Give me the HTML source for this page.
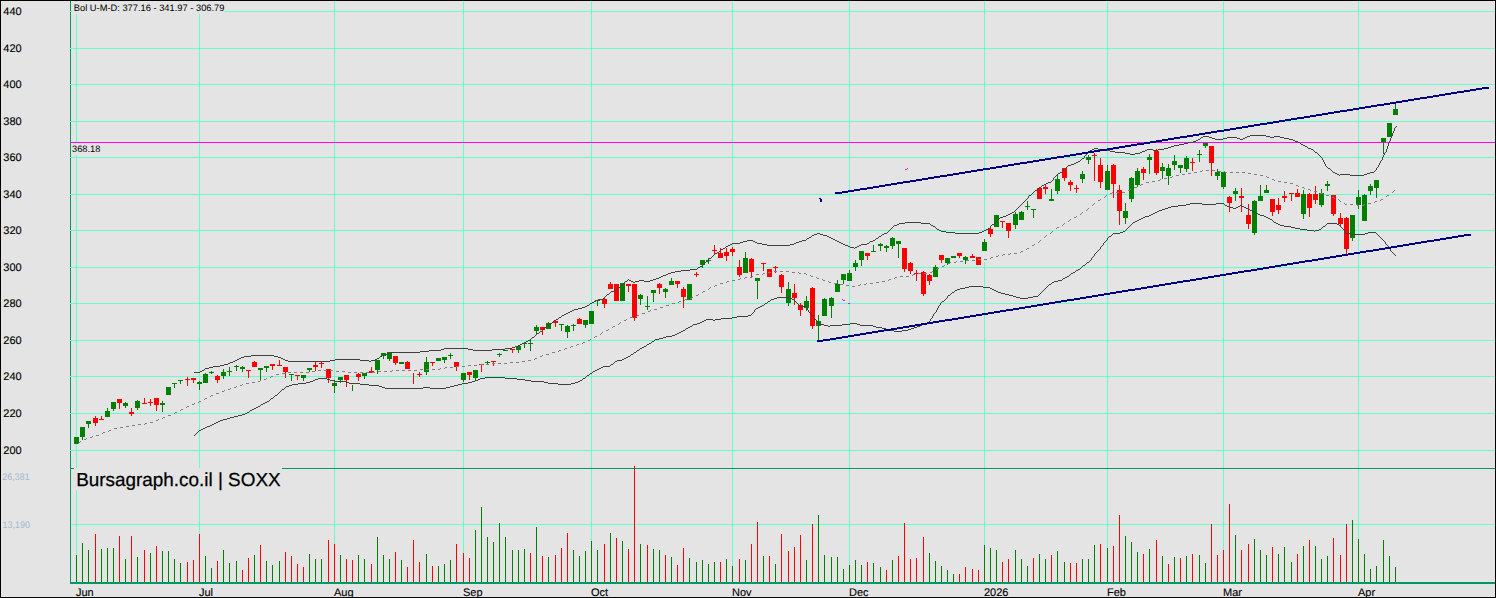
<!DOCTYPE html>
<html><head><meta charset="utf-8"><title>SOXX</title>
<style>html,body{margin:0;padding:0;background:#e4e4e4;}body{width:1496px;height:598px;overflow:hidden;position:relative;font-family:"Liberation Sans",sans-serif;}</style>
</head><body>
<svg width="1496" height="598" viewBox="0 0 1496 598" shape-rendering="crispEdges" style="display:block;position:absolute;left:0;top:0">
<rect x="0" y="0" width="1496" height="598" fill="#000"/>
<rect x="1" y="1" width="1494" height="596" fill="#e4e4e4"/>
<rect x="70" y="1" width="1" height="583" fill="#009966"/>
<path d="M70 11.5H1495M70 48.5H1495M70 84.5H1495M70 121.5H1495M70 157.5H1495M70 194.5H1495M70 230.5H1495M70 267.5H1495M70 303.5H1495M70 340.5H1495M70 376.5H1495M70 413.5H1495M70 450.5H1495M71 524.5H1495M76.5 1V582M199.5 1V582M334.5 1V582M463.5 1V582M591.5 1V582M732.5 1V582M849.5 1V582M984.5 1V582M1107.5 1V582M1223.5 1V582M1358.5 1V582" stroke="#66ffcc" stroke-width="1" fill="none"/>
<rect x="984" y="231" width="1" height="31" fill="#e4e4e4"/>
<path d="M70 468.5H1495" stroke="#009966" stroke-width="1"/>
<rect x="72" y="2" width="153" height="12" fill="#e4e4e4"/>
<rect x="71" y="143" width="31" height="12" fill="#e4e4e4"/>
<rect x="74" y="468" width="208" height="22" fill="#e4e4e4"/>
<path d="M70 142.5H1495" stroke="#ff00ff" stroke-width="1"/>
<rect x="70" y="582" width="1425" height="2" fill="#009966"/>
<path d="M76.5 555V582M82.5 543V582M88.5 550V582M101.5 549V582M107.5 548V582M113.5 548V582M125.5 559V582M137.5 557V582M150.5 553V582M162.5 551V582M168.5 551V582M174.5 559V582M180.5 563V582M205.5 556V582M211.5 568V582M223.5 550V582M229.5 563V582M236.5 561V582M254.5 555V582M266.5 561V582M272.5 565V582M279.5 561V582M309.5 554V582M315.5 559V582M321.5 559V582M340.5 555V582M358.5 555V582M364.5 559V582M377.5 537V582M383.5 555V582M389.5 559V582M401.5 560V582M426.5 554V582M438.5 566V582M444.5 564V582M450.5 560V582M475.5 530V582M481.5 507V582M487.5 537V582M493.5 542V582M499.5 523V582M505.5 537V582M512.5 550V582M518.5 550V582M524.5 549V582M536.5 527V582M548.5 557V582M573.5 550V582M579.5 556V582M585.5 551V582M591.5 541V582M597.5 550V582M610.5 533V582M622.5 541V582M640.5 544V582M653.5 549V582M659.5 550V582M671.5 557V582M689.5 558V582M696.5 562V582M702.5 560V582M708.5 564V582M714.5 562V582M726.5 559V582M732.5 566V582M745.5 560V582M763.5 556V582M775.5 564V582M806.5 560V582M818.5 515V582M824.5 555V582M831.5 557V582M837.5 557V582M843.5 569V582M849.5 565V582M855.5 560V582M861.5 565V582M873.5 563V582M880.5 567V582M892.5 560V582M929.5 553V582M935.5 561V582M941.5 566V582M947.5 570V582M953.5 574V582M984.5 545V582M990.5 548V582M996.5 550V582M1015.5 550V582M1021.5 559V582M1027.5 566V582M1039.5 554V582M1045.5 559V582M1057.5 551V582M1064.5 562V582M1082.5 559V582M1088.5 559V582M1094.5 545V582M1107.5 548V582M1125.5 536V582M1131.5 542V582M1137.5 552V582M1149.5 549V582M1162.5 556V582M1174.5 557V582M1186.5 556V582M1199.5 555V582M1205.5 563V582M1235.5 535V582M1254.5 539V582M1260.5 550V582M1266.5 555V582M1278.5 554V582M1284.5 547V582M1291.5 562V582M1303.5 546V582M1315.5 546V582M1321.5 559V582M1327.5 556V582M1352.5 520V582M1358.5 539V582M1364.5 554V582M1370.5 569V582M1376.5 566V582M1383.5 540V582M1389.5 556V582M1395.5 567V582" stroke="#008000" stroke-width="1"/>
<path d="M95.5 534V582M119.5 536V582M131.5 536V582M144.5 550V582M156.5 546V582M187.5 562V582M193.5 560V582M199.5 534V582M217.5 561V582M242.5 570V582M248.5 558V582M260.5 545V582M285.5 552V582M291.5 556V582M297.5 564V582M303.5 567V582M328.5 540V582M334.5 544V582M346.5 559V582M352.5 560V582M371.5 564V582M395.5 552V582M407.5 567V582M413.5 540V582M419.5 562V582M432.5 566V582M456.5 544V582M463.5 553V582M469.5 558V582M530.5 553V582M542.5 556V582M555.5 555V582M561.5 548V582M567.5 533V582M604.5 544V582M616.5 538V582M628.5 549V582M634.5 466V582M647.5 545V582M665.5 555V582M677.5 565V582M683.5 548V582M720.5 562V582M739.5 559V582M751.5 544V582M757.5 522V582M769.5 556V582M781.5 534V582M788.5 551V582M794.5 547V582M800.5 535V582M812.5 524V582M867.5 562V582M886.5 570V582M898.5 556V582M904.5 523V582M910.5 559V582M916.5 558V582M923.5 537V582M959.5 574V582M965.5 567V582M972.5 569V582M978.5 570V582M1002.5 562V582M1008.5 559V582M1033.5 558V582M1051.5 555V582M1070.5 563V582M1076.5 563V582M1100.5 544V582M1113.5 546V582M1119.5 515V582M1143.5 554V582M1156.5 540V582M1168.5 564V582M1180.5 558V582M1192.5 554V582M1211.5 524V582M1217.5 555V582M1223.5 550V582M1229.5 504V582M1241.5 550V582M1248.5 544V582M1272.5 547V582M1297.5 554V582M1309.5 540V582M1333.5 538V582M1340.5 555V582M1346.5 524V582" stroke="#ff0000" stroke-width="1"/>
<path d="M76 437h1v7h-1zM74 437h5v7h-5zM82 427h1v13h-1zM80 427h5v10h-5zM88 421h1v7h-1zM86 421h5v3h-5zM107 408h1v9h-1zM105 411h5v6h-5zM113 402h1v9h-1zM111 402h5v7h-5zM125 402h1v6h-1zM123 403h5v3h-5zM137 400h1v10h-1zM135 401h5v7h-5zM162 401h1v11h-1zM160 403h5v2h-5zM168 387h1v8h-1zM166 387h5v8h-5zM174 383h1v5h-1zM172 383h5v1h-5zM180 380h1v4h-1zM178 380h5v1h-5zM199 381h1v9h-1zM197 382h5v2h-5zM205 373h1v10h-1zM203 374h5v9h-5zM211 371h1v3h-1zM209 372h5v1h-5zM223 369h1v10h-1zM221 372h5v4h-5zM229 367h1v9h-1zM227 371h5v1h-5zM236 365h1v6h-1zM234 366h5v1h-5zM242 366h1v6h-1zM240 367h5v2h-5zM260 368h1v12h-1zM258 368h5v2h-5zM266 366h1v6h-1zM264 366h5v2h-5zM291 374h1v7h-1zM289 374h5v1h-5zM303 375h1v6h-1zM301 375h5v3h-5zM309 368h1v4h-1zM307 368h5v2h-5zM334 380h1v13h-1zM332 383h5v3h-5zM340 377h1v6h-1zM338 377h5v3h-5zM352 385h1v6h-1zM364 373h1v6h-1zM362 373h5v3h-5zM377 360h1v14h-1zM375 360h5v10h-5zM383 353h1v6h-1zM381 353h5v3h-5zM389 352h1v9h-1zM387 352h5v7h-5zM401 362h1v2h-1zM399 362h5v2h-5zM426 357h1v18h-1zM424 362h5v10h-5zM438 358h1v3h-1zM436 358h5v3h-5zM444 357h1v6h-1zM442 357h5v3h-5zM450 353h1v6h-1zM448 355h5v1h-5zM463 373h1v9h-1zM461 373h5v7h-5zM475 370h1v11h-1zM473 370h5v8h-5zM487 361h1v4h-1zM485 362h5v1h-5zM499 353h1v4h-1zM497 354h5v1h-5zM505 350h1v1h-1zM503 350h5v1h-5zM518 345h1v8h-1zM516 346h5v4h-5zM524 343h1v5h-1zM522 343h5v1h-5zM530 340h1v11h-1zM528 343h5v1h-5zM536 325h1v9h-1zM534 327h5v4h-5zM548 322h1v7h-1zM546 323h5v6h-5zM561 324h1v7h-1zM559 324h5v1h-5zM567 325h1v13h-1zM565 326h5v6h-5zM573 324h1v7h-1zM571 325h5v1h-5zM585 320h1v8h-1zM583 320h5v5h-5zM591 311h1v13h-1zM589 311h5v13h-5zM597 300h1v6h-1zM595 300h5v1h-5zM622 283h1v18h-1zM620 283h5v18h-5zM640 294h1v11h-1zM638 295h5v4h-5zM647 296h1v14h-1zM645 306h5v1h-5zM653 290h1v12h-1zM651 290h5v3h-5zM665 288h1v10h-1zM663 289h5v3h-5zM671 278h1v7h-1zM669 281h5v4h-5zM689 284h1v16h-1zM687 284h5v16h-5zM702 260h1v8h-1zM700 260h5v5h-5zM708 258h1v6h-1zM706 260h5v1h-5zM745 252h1v21h-1zM743 258h5v15h-5zM757 278h1v21h-1zM755 278h5v3h-5zM788 282h1v24h-1zM786 289h5v14h-5zM806 296h1v15h-1zM804 301h5v7h-5zM818 315h1v25h-1zM816 321h5v5h-5zM824 298h1v18h-1zM822 299h5v17h-5zM831 297h1v21h-1zM829 298h5v8h-5zM837 280h1v12h-1zM835 284h5v8h-5zM843 274h1v10h-1zM841 274h5v6h-5zM849 270h1v11h-1zM847 273h5v8h-5zM855 260h1v11h-1zM853 263h5v4h-5zM861 251h1v15h-1zM859 251h5v9h-5zM873 245h1v7h-1zM871 251h5v1h-5zM880 243h1v8h-1zM878 244h5v2h-5zM886 245h1v7h-1zM884 246h5v2h-5zM892 237h1v12h-1zM890 238h5v8h-5zM898 241h1v17h-1zM896 241h5v3h-5zM935 265h1v12h-1zM933 267h5v10h-5zM947 258h1v7h-1zM945 258h5v5h-5zM953 256h1v2h-1zM951 256h5v2h-5zM965 256h1v8h-1zM963 257h5v3h-5zM984 239h1v12h-1zM982 242h5v9h-5zM996 215h1v12h-1zM994 215h5v12h-5zM1015 212h1v17h-1zM1013 214h5v11h-5zM1021 211h1v9h-1zM1019 212h5v8h-5zM1027 201h1v9h-1zM1025 206h5v1h-5zM1033 209h1v9h-1zM1031 209h5v1h-5zM1051 189h1v12h-1zM1049 199h5v2h-5zM1057 174h1v20h-1zM1055 179h5v12h-5zM1082 171h1v12h-1zM1080 174h5v5h-5zM1088 155h1v9h-1zM1086 157h5v3h-5zM1107 165h1v25h-1zM1105 171h5v19h-5zM1125 203h1v21h-1zM1123 211h5v7h-5zM1131 177h1v25h-1zM1129 178h5v21h-5zM1137 168h1v19h-1zM1135 171h5v14h-5zM1149 154h1v20h-1zM1147 157h5v3h-5zM1162 163h1v16h-1zM1160 167h5v4h-5zM1168 164h1v21h-1zM1166 168h5v8h-5zM1174 155h1v15h-1zM1172 161h5v4h-5zM1180 165h1v8h-1zM1178 165h5v3h-5zM1186 156h1v16h-1zM1184 158h5v11h-5zM1199 150h1v12h-1zM1197 154h5v1h-5zM1205 143h1v5h-1zM1203 143h5v3h-5zM1217 169h1v11h-1zM1215 172h5v4h-5zM1223 172h1v17h-1zM1221 172h5v15h-5zM1235 188h1v13h-1zM1233 191h5v3h-5zM1254 200h1v35h-1zM1252 201h5v32h-5zM1260 185h1v16h-1zM1258 196h5v5h-5zM1266 185h1v8h-1zM1264 190h5v3h-5zM1303 190h1v29h-1zM1301 194h5v20h-5zM1321 189h1v18h-1zM1319 193h5v12h-5zM1327 181h1v10h-1zM1325 184h5v2h-5zM1352 215h1v26h-1zM1350 215h5v23h-5zM1358 190h1v19h-1zM1356 197h5v8h-5zM1364 194h1v27h-1zM1362 195h5v26h-5zM1370 184h1v11h-1zM1368 186h5v5h-5zM1376 180h1v18h-1zM1374 180h5v8h-5zM1383 138h1v16h-1zM1381 138h5v4h-5zM1389 123h1v14h-1zM1387 123h5v14h-5zM1395 103h1v12h-1zM1393 109h5v6h-5z" fill="#008000"/>
<path d="M95 416h1v10h-1zM93 418h5v5h-5zM101 416h1v4h-1zM99 419h5v1h-5zM119 399h1v10h-1zM117 399h5v4h-5zM131 408h1v8h-1zM129 412h5v2h-5zM144 398h1v6h-1zM142 403h5v1h-5zM150 399h1v7h-1zM148 402h5v1h-5zM156 398h1v13h-1zM154 398h5v7h-5zM187 377h1v9h-1zM185 379h5v1h-5zM193 378h1v5h-1zM191 378h5v2h-5zM217 375h1v8h-1zM215 376h5v4h-5zM248 370h1v8h-1zM246 370h5v1h-5zM254 361h1v6h-1zM252 362h5v5h-5zM272 364h1v6h-1zM270 364h5v2h-5zM279 360h1v6h-1zM277 365h5v1h-5zM285 367h1v11h-1zM283 367h5v5h-5zM297 375h1v5h-1zM295 375h5v1h-5zM315 362h1v9h-1zM313 365h5v2h-5zM321 362h1v6h-1zM319 363h5v1h-5zM328 369h1v14h-1zM326 369h5v9h-5zM346 375h1v12h-1zM344 375h5v5h-5zM358 373h1v8h-1zM356 374h5v3h-5zM371 367h1v6h-1zM369 371h5v2h-5zM395 356h1v9h-1zM393 356h5v7h-5zM407 361h1v8h-1zM405 362h5v7h-5zM413 373h1v11h-1zM419 372h1v5h-1zM417 374h5v1h-5zM432 362h1v4h-1zM430 362h5v1h-5zM456 362h1v9h-1zM454 362h5v5h-5zM469 372h1v8h-1zM467 372h5v3h-5zM481 364h1v8h-1zM479 364h5v1h-5zM493 361h1v5h-1zM491 361h5v1h-5zM512 349h1v4h-1zM510 349h5v1h-5zM542 327h1v8h-1zM540 327h5v3h-5zM555 321h1v6h-1zM553 321h5v2h-5zM579 318h1v6h-1zM577 319h5v5h-5zM604 297h1v11h-1zM602 299h5v5h-5zM610 282h1v7h-1zM608 284h5v5h-5zM616 284h1v17h-1zM614 284h5v17h-5zM628 284h1v8h-1zM626 284h5v2h-5zM634 284h1v37h-1zM632 284h5v34h-5zM659 283h1v11h-1zM657 284h5v4h-5zM677 281h1v7h-1zM675 281h5v3h-5zM683 287h1v21h-1zM681 289h5v8h-5zM696 272h1v5h-1zM694 274h5v1h-5zM714 245h1v10h-1zM712 250h5v1h-5zM720 248h1v10h-1zM718 253h5v5h-5zM726 248h1v13h-1zM724 252h5v4h-5zM732 247h1v9h-1zM730 249h5v3h-5zM739 260h1v17h-1zM737 267h5v8h-5zM751 258h1v19h-1zM749 259h5v13h-5zM763 263h1v8h-1zM761 263h5v1h-5zM769 269h1v8h-1zM767 269h5v8h-5zM775 266h1v7h-1zM773 267h5v1h-5zM781 274h1v19h-1zM779 275h5v12h-5zM794 284h1v21h-1zM792 293h5v5h-5zM800 303h1v13h-1zM798 305h5v5h-5zM812 287h1v42h-1zM810 288h5v38h-5zM867 253h1v7h-1zM865 253h5v3h-5zM904 248h1v24h-1zM902 248h5v21h-5zM910 262h1v12h-1zM908 263h5v8h-5zM916 270h1v11h-1zM914 273h5v1h-5zM923 271h1v25h-1zM921 272h5v22h-5zM929 274h1v11h-1zM927 275h5v6h-5zM941 255h1v8h-1zM939 255h5v5h-5zM959 253h1v5h-1zM957 253h5v3h-5zM972 254h1v4h-1zM970 256h5v2h-5zM978 257h1v8h-1zM976 257h5v8h-5zM990 227h1v10h-1zM988 229h5v5h-5zM1002 221h1v7h-1zM1000 221h5v1h-5zM1008 223h1v15h-1zM1006 223h5v8h-5zM1039 187h1v12h-1zM1037 188h5v11h-5zM1045 185h1v9h-1zM1043 187h5v2h-5zM1064 168h1v13h-1zM1062 168h5v10h-5zM1070 180h1v11h-1zM1068 182h5v3h-5zM1076 185h1v8h-1zM1074 188h5v1h-5zM1094 153h1v28h-1zM1092 155h5v1h-5zM1100 158h1v30h-1zM1098 165h5v17h-5zM1113 164h1v34h-1zM1111 165h5v19h-5zM1119 185h1v40h-1zM1117 190h5v21h-5zM1143 167h1v13h-1zM1141 169h5v4h-5zM1156 149h1v26h-1zM1154 151h5v22h-5zM1192 158h1v13h-1zM1190 162h5v1h-5zM1211 146h1v30h-1zM1209 146h5v17h-5zM1229 196h1v16h-1zM1227 197h5v6h-5zM1241 188h1v24h-1zM1239 196h5v2h-5zM1248 204h1v25h-1zM1246 215h5v9h-5zM1272 199h1v17h-1zM1270 199h5v13h-5zM1278 198h1v16h-1zM1276 205h5v5h-5zM1284 191h1v11h-1zM1282 196h5v2h-5zM1291 193h1v8h-1zM1289 193h5v1h-5zM1297 189h1v8h-1zM1295 193h5v4h-5zM1309 193h1v24h-1zM1307 194h5v14h-5zM1315 186h1v18h-1zM1313 194h5v6h-5zM1333 195h1v21h-1zM1331 195h5v19h-5zM1340 213h1v14h-1zM1338 218h5v6h-5zM1346 217h1v37h-1zM1344 218h5v31h-5z" fill="#ff0000"/>
<path d="M1202 170.5h1M1206 170.5h3M1212 170.5h3M1200 171.5h2M1218 171.5h3M1224 171.5h1M1194 172.5h3M1225 172.5h2M1230 172.5h3M1236 172.5h3M1242 172.5h3M1188 173.5h3M1248 173.5h3M1182 174.5h3M1254 174.5h3M1176 175.5h3M1260 175.5h3M1172 176.5h1M1266 176.5h1M1170 177.5h2M1267 177.5h2M1164 178.5h3M1160 179.5h1M1272 179.5h2M1158 180.5h2M1274 180.5h1M1152 181.5h3M1278 181.5h3M1146 182.5h3M1284 182.5h3M1290 183.5h3M1141 184.5h2M1140 185.5h1M1296 185.5h2M1298 186.5h1M1134 187.5h3M1302 187.5h2M1304 188.5h1M1130 189.5h1M1308 189.5h2M1128 190.5h2M1310 190.5h1M1394 190.5h1M1314 191.5h3M1393 191.5h1M1112 192.5h1M1116 192.5h3M1122 192.5h3M1392 192.5h1M1110 193.5h2M1320 193.5h3M1106 195.5h1M1326 195.5h3M1387 195.5h2M1105 196.5h1M1386 196.5h1M1104 197.5h1M1332 197.5h2M1334 198.5h1M1100 199.5h1M1338 199.5h1M1381 199.5h2M1098 200.5h2M1339 200.5h1M1380 200.5h1M1340 201.5h1M1375 201.5h2M1374 202.5h1M1094 203.5h1M1344 203.5h1M1368 203.5h3M1093 204.5h1M1345 204.5h2M1350 204.5h3M1356 204.5h1M1364 204.5h1M1092 205.5h1M1357 205.5h2M1362 205.5h2M1088 208.5h1M1087 209.5h1M1086 210.5h1M1082 212.5h1M1081 213.5h1M1080 214.5h1M1076 216.5h1M1074 217.5h2M1070 219.5h1M1069 220.5h1M1068 221.5h1M1064 223.5h1M1063 224.5h1M1062 225.5h1M1057 227.5h2M1056 228.5h1M1052 231.5h1M1051 232.5h1M1050 233.5h1M1046 235.5h1M1045 236.5h1M1044 237.5h1M1040 240.5h1M1039 241.5h1M1038 242.5h1M1034 244.5h1M1032 245.5h2M1027 248.5h2M1026 249.5h1M1021 251.5h2M1020 252.5h1M1010 253.5h1M1014 253.5h3M1003 254.5h2M1008 254.5h2M998 255.5h1M1002 255.5h1M996 256.5h2M991 257.5h2M990 258.5h1M978 259.5h3M984 259.5h3M966 260.5h3M972 260.5h3M956 261.5h1M960 261.5h3M950 262.5h1M954 262.5h2M948 263.5h2M944 265.5h1M942 266.5h2M937 268.5h2M936 269.5h1M774 271.5h3M780 271.5h3M786 271.5h3M932 271.5h1M768 272.5h3M792 272.5h3M798 272.5h1M930 272.5h2M763 273.5h2M799 273.5h2M804 273.5h2M918 273.5h3M924 273.5h3M756 274.5h3M762 274.5h1M806 274.5h1M913 274.5h2M810 275.5h1M912 275.5h1M752 276.5h1M811 276.5h2M900 276.5h3M906 276.5h3M745 277.5h2M750 277.5h2M816 277.5h1M895 277.5h2M740 278.5h1M744 278.5h1M817 278.5h2M894 278.5h1M738 279.5h2M822 279.5h1M889 279.5h2M732 280.5h3M823 280.5h2M888 280.5h1M727 281.5h2M828 281.5h1M882 281.5h3M726 282.5h1M829 282.5h2M876 282.5h3M720 283.5h3M834 283.5h3M866 283.5h1M870 283.5h3M840 284.5h3M860 284.5h1M864 284.5h2M715 285.5h2M846 285.5h3M858 285.5h2M714 286.5h1M852 286.5h3M710 287.5h1M709 288.5h1M708 289.5h1M703 291.5h2M702 292.5h1M698 294.5h1M696 295.5h2M692 297.5h1M690 298.5h2M685 299.5h2M684 300.5h1M679 301.5h2M678 302.5h1M672 303.5h3M666 305.5h3M660 307.5h3M654 309.5h3M650 310.5h1M648 311.5h2M642 313.5h3M637 315.5h2M636 316.5h1M630 317.5h3M626 319.5h1M624 320.5h2M620 322.5h1M619 323.5h1M618 324.5h1M613 326.5h2M612 327.5h1M608 329.5h1M606 330.5h2M602 332.5h1M601 333.5h1M600 334.5h1M595 336.5h2M594 337.5h1M590 339.5h1M588 340.5h2M583 342.5h2M582 343.5h1M577 344.5h2M576 345.5h1M571 346.5h2M570 347.5h1M565 348.5h2M564 349.5h1M559 350.5h2M558 351.5h1M552 352.5h3M546 354.5h3M542 355.5h1M540 356.5h2M535 358.5h2M534 359.5h1M528 360.5h3M522 361.5h3M510 362.5h3M516 362.5h3M492 363.5h3M498 363.5h3M504 363.5h3M480 364.5h3M486 364.5h3M468 365.5h3M474 365.5h3M456 366.5h3M462 366.5h3M445 367.5h2M450 367.5h3M440 368.5h1M444 368.5h1M420 369.5h3M426 369.5h3M432 369.5h3M438 369.5h2M318 370.5h3M324 370.5h3M330 370.5h3M392 370.5h1M396 370.5h3M402 370.5h3M408 370.5h3M414 370.5h3M312 371.5h3M336 371.5h3M342 371.5h3M378 371.5h3M384 371.5h3M390 371.5h2M288 372.5h3M294 372.5h3M300 372.5h3M306 372.5h3M348 372.5h3M354 372.5h3M360 372.5h3M366 372.5h3M372 372.5h3M282 373.5h3M276 374.5h3M271 376.5h2M270 377.5h1M266 378.5h1M264 379.5h2M260 380.5h1M258 381.5h2M252 382.5h3M246 383.5h3M242 384.5h1M240 385.5h2M236 386.5h1M234 387.5h2M230 388.5h1M228 389.5h2M224 390.5h1M222 391.5h2M216 393.5h3M211 395.5h2M210 396.5h1M205 398.5h2M204 399.5h1M199 401.5h2M198 402.5h1M194 403.5h1M192 404.5h2M187 406.5h2M186 407.5h1M181 409.5h2M180 410.5h1M175 412.5h2M174 413.5h1M168 415.5h3M163 417.5h2M162 418.5h1M158 419.5h1M156 420.5h2M150 422.5h3M145 423.5h2M138 424.5h3M144 424.5h1M132 425.5h3M126 426.5h3M120 427.5h3M114 428.5h3M109 430.5h2M108 431.5h1M103 432.5h2M102 433.5h1M96 435.5h3M92 436.5h1M90 437.5h2M86 438.5h1M84 439.5h2M80 441.5h1M79 442.5h1M78 443.5h1" stroke="#808080" stroke-width="1" fill="none"/>
<path d="M1396 126.5h1M1395 127.5h1M1394 128.5h1M1394 129.5h1M1394 130.5h1M1393 131.5h1M1393 132.5h1M1392 133.5h1M1392 134.5h1M1250 135.5h16M1392 135.5h1M1203 136.5h6M1247 136.5h3M1266 136.5h4M1274 136.5h6M1391 136.5h1M1201 137.5h2M1209 137.5h3M1227 137.5h10M1245 137.5h2M1270 137.5h4M1280 137.5h4M1391 137.5h1M1200 138.5h1M1212 138.5h3M1223 138.5h4M1237 138.5h3M1243 138.5h2M1284 138.5h5M1390 138.5h1M1198 139.5h2M1215 139.5h8M1240 139.5h3M1289 139.5h4M1390 139.5h1M1196 140.5h2M1293 140.5h2M1390 140.5h1M1193 141.5h3M1295 141.5h3M1389 141.5h1M1188 142.5h5M1298 142.5h2M1389 142.5h1M1184 143.5h4M1300 143.5h1M1388 143.5h1M1179 144.5h5M1301 144.5h2M1388 144.5h1M1174 145.5h5M1303 145.5h2M1388 145.5h1M1171 146.5h3M1305 146.5h2M1387 146.5h1M1168 147.5h3M1307 147.5h1M1387 147.5h1M1094 148.5h4M1164 148.5h4M1308 148.5h3M1387 148.5h1M1092 149.5h2M1098 149.5h3M1147 149.5h6M1158 149.5h6M1311 149.5h2M1386 149.5h1M1090 150.5h2M1101 150.5h9M1145 150.5h2M1153 150.5h5M1313 150.5h1M1386 150.5h1M1089 151.5h1M1110 151.5h5M1142 151.5h3M1314 151.5h1M1386 151.5h1M1088 152.5h1M1115 152.5h10M1140 152.5h2M1315 152.5h2M1385 152.5h1M1087 153.5h1M1125 153.5h5M1135 153.5h5M1317 153.5h1M1384 153.5h1M1086 154.5h1M1130 154.5h5M1318 154.5h1M1384 154.5h1M1085 155.5h1M1319 155.5h1M1383 155.5h1M1084 156.5h1M1320 156.5h1M1383 156.5h1M1084 157.5h1M1321 157.5h1M1382 157.5h1M1082 158.5h2M1322 158.5h1M1382 158.5h1M1081 159.5h1M1322 159.5h1M1382 159.5h1M1080 160.5h1M1323 160.5h1M1381 160.5h1M1078 161.5h2M1323 161.5h1M1380 161.5h1M1076 162.5h2M1324 162.5h1M1380 162.5h1M1074 163.5h2M1324 163.5h1M1379 163.5h1M1071 164.5h3M1325 164.5h1M1379 164.5h1M1068 165.5h3M1325 165.5h1M1378 165.5h1M1067 166.5h1M1326 166.5h1M1378 166.5h1M1066 167.5h1M1327 167.5h1M1377 167.5h1M1065 168.5h1M1328 168.5h2M1376 168.5h1M1063 169.5h2M1330 169.5h1M1376 169.5h1M1062 170.5h1M1331 170.5h1M1375 170.5h1M1062 171.5h1M1332 171.5h1M1374 171.5h1M1060 172.5h2M1333 172.5h2M1370 172.5h4M1058 173.5h2M1335 173.5h2M1367 173.5h3M1057 174.5h1M1337 174.5h2M1340 174.5h10M1364 174.5h3M1056 175.5h1M1339 175.5h1M1350 175.5h14M1055 176.5h1M1054 177.5h1M1053 178.5h1M1053 179.5h1M1052 180.5h1M1051 181.5h1M1048 182.5h3M1046 183.5h2M1044 184.5h2M1042 185.5h2M1041 186.5h1M1040 187.5h1M1039 188.5h1M1037 189.5h2M1035 190.5h2M1034 191.5h1M1033 192.5h1M1032 193.5h1M1031 194.5h1M1029 195.5h2M1028 196.5h1M1028 197.5h1M1027 198.5h1M1026 199.5h1M1025 200.5h1M1024 201.5h1M1023 202.5h1M1022 203.5h1M1021 204.5h1M1020 205.5h1M1019 206.5h1M1018 207.5h1M1017 208.5h1M1016 209.5h1M1015 210.5h1M1014 211.5h1M1012 212.5h2M1010 213.5h2M1008 214.5h2M1006 215.5h2M1003 216.5h3M1000 217.5h3M999 218.5h1M998 219.5h1M997 220.5h1M996 221.5h1M905 222.5h16M995 222.5h1M899 223.5h6M921 223.5h9M994 223.5h1M897 224.5h2M930 224.5h1M992 224.5h2M894 225.5h3M931 225.5h2M991 225.5h1M893 226.5h1M933 226.5h2M990 226.5h1M892 227.5h1M935 227.5h1M990 227.5h1M891 228.5h1M936 228.5h1M988 228.5h2M890 229.5h1M937 229.5h2M986 229.5h2M889 230.5h1M939 230.5h2M984 230.5h2M888 231.5h1M941 231.5h5M982 231.5h2M887 232.5h1M946 232.5h9M979 232.5h3M817 233.5h3M884 233.5h3M955 233.5h24M814 234.5h3M820 234.5h3M882 234.5h2M812 235.5h2M823 235.5h4M881 235.5h1M811 236.5h1M827 236.5h2M879 236.5h2M809 237.5h2M829 237.5h2M878 237.5h1M807 238.5h2M831 238.5h2M876 238.5h2M806 239.5h1M833 239.5h2M875 239.5h1M747 240.5h6M802 240.5h4M835 240.5h2M873 240.5h2M743 241.5h4M753 241.5h2M799 241.5h3M837 241.5h2M870 241.5h3M740 242.5h3M755 242.5h2M796 242.5h3M839 242.5h2M869 242.5h1M732 243.5h8M757 243.5h5M794 243.5h2M841 243.5h2M867 243.5h2M730 244.5h2M762 244.5h5M790 244.5h4M843 244.5h2M861 244.5h6M728 245.5h2M767 245.5h23M845 245.5h3M859 245.5h2M726 246.5h2M848 246.5h2M857 246.5h2M725 247.5h1M850 247.5h4M855 247.5h2M723 248.5h2M854 248.5h1M721 249.5h2M720 250.5h1M719 251.5h1M717 252.5h2M715 253.5h2M714 254.5h1M713 255.5h1M712 256.5h1M711 257.5h1M709 258.5h2M708 259.5h1M708 260.5h1M706 261.5h2M705 262.5h1M704 263.5h1M703 264.5h1M702 265.5h1M700 266.5h2M698 267.5h2M697 268.5h1M690 269.5h7M681 270.5h9M675 271.5h6M671 272.5h4M668 273.5h3M666 274.5h2M663 275.5h3M661 276.5h2M659 277.5h2M656 278.5h3M628 279.5h1M653 279.5h3M627 280.5h1M629 280.5h2M639 280.5h5M650 280.5h3M625 281.5h2M631 281.5h2M635 281.5h4M644 281.5h6M624 282.5h1M633 282.5h2M623 283.5h1M622 284.5h1M621 285.5h1M620 286.5h1M618 287.5h2M617 288.5h1M616 289.5h1M614 290.5h2M611 291.5h3M610 292.5h1M609 293.5h1M607 294.5h2M606 295.5h1M605 296.5h1M604 297.5h1M603 298.5h1M598 299.5h5M596 300.5h2M594 301.5h2M592 302.5h2M590 303.5h2M589 304.5h1M587 305.5h2M585 306.5h2M582 307.5h3M578 308.5h4M574 309.5h4M572 310.5h2M570 311.5h2M568 312.5h2M566 313.5h2M564 314.5h2M562 315.5h2M561 316.5h1M559 317.5h2M558 318.5h1M556 319.5h2M554 320.5h2M553 321.5h1M552 322.5h1M551 323.5h1M549 324.5h2M548 325.5h1M546 326.5h2M545 327.5h1M544 328.5h1M543 329.5h1M542 330.5h1M540 331.5h2M539 332.5h1M537 333.5h2M536 334.5h1M535 335.5h1M534 336.5h1M532 337.5h2M531 338.5h1M530 339.5h1M528 340.5h2M526 341.5h2M524 342.5h2M522 343.5h2M520 344.5h2M518 345.5h2M515 346.5h3M512 347.5h3M444 348.5h24M505 348.5h7M441 349.5h3M468 349.5h5M492 349.5h13M429 350.5h12M473 350.5h19M420 351.5h9M390 352.5h30M387 353.5h3M384 354.5h3M251 355.5h23M382 355.5h2M244 356.5h7M274 356.5h4M380 356.5h2M241 357.5h3M278 357.5h3M379 357.5h1M239 358.5h2M281 358.5h2M377 358.5h2M237 359.5h2M283 359.5h2M335 359.5h25M375 359.5h2M235 360.5h2M285 360.5h3M330 360.5h5M360 360.5h9M371 360.5h4M233 361.5h2M288 361.5h42M369 361.5h2M230 362.5h3M228 363.5h2M224 364.5h4M220 365.5h4M213 366.5h7M209 367.5h4M205 368.5h4M204 369.5h1M202 370.5h2M200 371.5h2M194 372.5h6M1190 203.5h12M1216 203.5h8M1186 204.5h4M1202 204.5h14M1224 204.5h1M1178 205.5h8M1225 205.5h2M1240 205.5h2M1171 206.5h7M1227 206.5h2M1238 206.5h2M1242 206.5h2M1168 207.5h3M1229 207.5h4M1236 207.5h2M1244 207.5h2M1165 208.5h3M1233 208.5h3M1246 208.5h2M1162 209.5h3M1248 209.5h2M1159 210.5h3M1250 210.5h2M1157 211.5h2M1252 211.5h2M1155 212.5h2M1254 212.5h2M1153 213.5h2M1256 213.5h2M1151 214.5h2M1258 214.5h2M1149 215.5h2M1260 215.5h4M1145 216.5h4M1264 216.5h2M1143 217.5h2M1266 217.5h2M1141 218.5h2M1268 218.5h2M1139 219.5h2M1270 219.5h2M1137 220.5h2M1272 220.5h1M1135 221.5h2M1273 221.5h1M1133 222.5h2M1274 222.5h2M1132 223.5h1M1276 223.5h2M1327 223.5h10M1131 224.5h1M1278 224.5h2M1326 224.5h1M1337 224.5h2M1130 225.5h1M1280 225.5h4M1325 225.5h1M1339 225.5h1M1129 226.5h1M1284 226.5h7M1323 226.5h2M1340 226.5h1M1128 227.5h1M1291 227.5h4M1322 227.5h1M1341 227.5h1M1127 228.5h1M1295 228.5h5M1321 228.5h1M1342 228.5h1M1126 229.5h1M1300 229.5h7M1319 229.5h2M1343 229.5h1M1125 230.5h1M1307 230.5h7M1315 230.5h4M1344 230.5h1M1123 231.5h2M1314 231.5h1M1344 231.5h1M1120 232.5h3M1345 232.5h1M1368 232.5h8M1113 233.5h7M1346 233.5h4M1365 233.5h3M1376 233.5h1M1112 234.5h1M1350 234.5h15M1377 234.5h1M1111 235.5h1M1378 235.5h1M1109 236.5h2M1379 236.5h1M1108 237.5h1M1380 237.5h1M1107 238.5h1M1381 238.5h1M1107 239.5h1M1382 239.5h1M1106 240.5h1M1383 240.5h1M1105 241.5h1M1384 241.5h1M1104 242.5h1M1385 242.5h1M1103 243.5h1M1385 243.5h1M1103 244.5h1M1386 244.5h1M1102 245.5h1M1387 245.5h1M1101 246.5h1M1388 246.5h1M1100 247.5h1M1389 247.5h1M1100 248.5h1M1389 248.5h1M1099 249.5h1M1390 249.5h1M1098 250.5h1M1390 250.5h1M1097 251.5h1M1391 251.5h1M1096 252.5h1M1392 252.5h1M1095 253.5h1M1393 253.5h1M1094 254.5h1M1394 254.5h1M1094 255.5h1M1395 255.5h1M1093 256.5h1M1092 257.5h1M1091 258.5h1M1091 259.5h1M1090 260.5h1M1089 261.5h1M1087 262.5h2M1086 263.5h1M1085 264.5h1M1083 265.5h2M1082 266.5h1M1081 267.5h1M1080 268.5h1M1078 269.5h2M1076 270.5h2M1075 271.5h1M1073 272.5h2M1071 273.5h2M1070 274.5h1M1069 275.5h1M1067 276.5h2M1065 277.5h2M1063 278.5h2M1062 279.5h1M1058 280.5h4M1054 281.5h4M1052 282.5h2M1051 283.5h1M1049 284.5h2M1048 285.5h1M969 286.5h14M1047 286.5h1M965 287.5h4M983 287.5h7M1046 287.5h1M960 288.5h5M990 288.5h2M1045 288.5h1M957 289.5h3M992 289.5h2M1044 289.5h1M955 290.5h2M994 290.5h2M1043 290.5h1M954 291.5h1M996 291.5h2M1042 291.5h1M952 292.5h2M998 292.5h3M1041 292.5h1M951 293.5h1M1001 293.5h4M1040 293.5h1M950 294.5h1M1005 294.5h4M1039 294.5h1M948 295.5h2M1009 295.5h4M1038 295.5h1M947 296.5h1M1013 296.5h3M1033 296.5h5M777 297.5h13M947 297.5h1M1016 297.5h4M1028 297.5h5M774 298.5h3M790 298.5h2M946 298.5h1M1020 298.5h8M771 299.5h3M792 299.5h2M945 299.5h1M770 300.5h1M794 300.5h1M944 300.5h1M768 301.5h2M795 301.5h1M942 301.5h2M767 302.5h1M796 302.5h1M941 302.5h1M765 303.5h2M797 303.5h1M940 303.5h1M764 304.5h1M798 304.5h1M940 304.5h1M762 305.5h2M799 305.5h1M939 305.5h1M760 306.5h2M800 306.5h6M938 306.5h1M758 307.5h2M806 307.5h1M938 307.5h1M756 308.5h2M807 308.5h1M937 308.5h1M755 309.5h1M807 309.5h1M937 309.5h1M754 310.5h1M808 310.5h1M936 310.5h1M754 311.5h1M808 311.5h1M936 311.5h1M753 312.5h1M809 312.5h1M935 312.5h1M752 313.5h1M810 313.5h1M934 313.5h1M751 314.5h1M811 314.5h1M933 314.5h1M748 315.5h3M812 315.5h1M933 315.5h1M737 316.5h11M812 316.5h1M932 316.5h1M732 317.5h5M813 317.5h1M932 317.5h1M721 318.5h11M814 318.5h1M931 318.5h1M706 319.5h7M715 319.5h6M815 319.5h1M930 319.5h1M704 320.5h2M713 320.5h2M816 320.5h1M930 320.5h1M702 321.5h2M817 321.5h1M929 321.5h1M700 322.5h2M818 322.5h1M927 322.5h2M697 323.5h3M819 323.5h1M850 323.5h7M925 323.5h2M693 324.5h4M820 324.5h4M842 324.5h8M857 324.5h3M922 324.5h3M692 325.5h1M824 325.5h4M830 325.5h12M860 325.5h13M920 325.5h2M690 326.5h2M828 326.5h2M873 326.5h3M917 326.5h3M688 327.5h2M876 327.5h6M914 327.5h3M686 328.5h2M882 328.5h4M911 328.5h3M685 329.5h1M886 329.5h4M908 329.5h3M683 330.5h2M890 330.5h4M902 330.5h6M681 331.5h2M894 331.5h8M679 332.5h2M677 333.5h2M675 334.5h2M672 335.5h3M666 336.5h6M663 337.5h3M659 338.5h4M655 339.5h4M654 340.5h1M652 341.5h2M651 342.5h1M649 343.5h2M647 344.5h2M646 345.5h1M644 346.5h2M642 347.5h2M640 348.5h2M639 349.5h1M637 350.5h2M636 351.5h1M634 352.5h2M633 353.5h1M631 354.5h2M630 355.5h1M628 356.5h2M626 357.5h2M624 358.5h2M622 359.5h2M617 360.5h5M615 361.5h2M614 362.5h1M613 363.5h1M611 364.5h2M610 365.5h1M603 366.5h7M601 367.5h2M599 368.5h2M597 369.5h2M595 370.5h2M593 371.5h2M592 372.5h1M590 373.5h2M589 374.5h1M587 375.5h2M586 376.5h1M485 377.5h20M585 377.5h1M318 378.5h9M480 378.5h5M505 378.5h12M583 378.5h2M315 379.5h3M327 379.5h3M478 379.5h2M517 379.5h8M582 379.5h1M313 380.5h2M330 380.5h5M475 380.5h3M525 380.5h6M580 380.5h2M310 381.5h3M335 381.5h11M472 381.5h3M531 381.5h13M578 381.5h2M306 382.5h4M346 382.5h3M468 382.5h4M544 382.5h4M575 382.5h3M298 383.5h8M349 383.5h11M462 383.5h6M548 383.5h10M571 383.5h4M292 384.5h6M360 384.5h9M458 384.5h4M558 384.5h13M289 385.5h3M369 385.5h10M454 385.5h4M286 386.5h3M379 386.5h3M450 386.5h4M285 387.5h1M382 387.5h3M423 387.5h7M446 387.5h4M284 388.5h1M385 388.5h38M430 388.5h16M282 389.5h2M281 390.5h1M280 391.5h1M279 392.5h1M278 393.5h1M277 394.5h1M275 395.5h2M274 396.5h1M273 397.5h1M271 398.5h2M270 399.5h1M269 400.5h1M267 401.5h2M265 402.5h2M263 403.5h2M261 404.5h2M260 405.5h1M258 406.5h2M256 407.5h2M254 408.5h2M252 409.5h2M250 410.5h2M249 411.5h1M247 412.5h2M245 413.5h2M242 414.5h3M238 415.5h4M234 416.5h4M230 417.5h4M227 418.5h3M223 419.5h4M220 420.5h3M218 421.5h2M216 422.5h2M214 423.5h2M212 424.5h2M210 425.5h2M207 426.5h3M205 427.5h2M203 428.5h2M201 429.5h2M199 430.5h2M198 431.5h1M197 432.5h1M196 433.5h1M195 434.5h1M194 435.5h1" stroke="#404040" stroke-width="1" fill="none"/>
<path d="M835.9 192.4925L1488.4 86.478V88.478L835.9 194.4925zM835 192h1v2h-1zM817 340.565L1470.4 233.468V235.468L817 342.565zM1488 87h1v2h-1zM1470 234h1v2h-1z" fill="#000080"/>
<path d="M819 198h2v1h-2zM820 199h2v3h-2z" fill="#000080"/>
<path d="M905 169h2v-1h1v1h-1v1h-2z" fill="#ff00ff"/>
<path d="M842 299h1v1h2v1h-2v-1h-1z" fill="#ff00ff"/>
<rect x="848" y="303" width="2" height="1" fill="#ff00ff"/>
<g font-family="Liberation Sans, sans-serif" shape-rendering="auto" text-rendering="geometricPrecision" stroke="#000" stroke-width="0.12">
<text x="3.3" y="15.4" font-size="11">440</text>
<text x="3.3" y="52.4" font-size="11">420</text>
<text x="3.3" y="88.4" font-size="11">400</text>
<text x="3.3" y="125.4" font-size="11">380</text>
<text x="3.3" y="161.4" font-size="11">360</text>
<text x="3.3" y="198.4" font-size="11">340</text>
<text x="3.3" y="234.4" font-size="11">320</text>
<text x="3.3" y="271.4" font-size="11">300</text>
<text x="3.3" y="307.4" font-size="11">280</text>
<text x="3.3" y="344.4" font-size="11">260</text>
<text x="3.3" y="380.4" font-size="11">240</text>
<text x="3.3" y="417.4" font-size="11">220</text>
<text x="3.3" y="454.4" font-size="11">200</text>
<text x="76" y="596" font-size="11">Jun</text>
<text x="199" y="596" font-size="11">Jul</text>
<text x="334" y="596" font-size="11">Aug</text>
<text x="463" y="596" font-size="11">Sep</text>
<text x="591" y="596" font-size="11">Oct</text>
<text x="732" y="596" font-size="11">Nov</text>
<text x="849" y="596" font-size="11">Dec</text>
<text x="984" y="596" font-size="11">2026</text>
<text x="1107" y="596" font-size="11">Feb</text>
<text x="1223" y="596" font-size="11">Mar</text>
<text x="1358" y="596" font-size="11">Apr</text>
<text x="2.3" y="480" font-size="9.5" textLength="27.3" lengthAdjust="spacingAndGlyphs" fill="#a4b8cc" stroke="none">26,381</text>
<text x="2.6" y="528" font-size="9.5" textLength="27.3" lengthAdjust="spacingAndGlyphs" fill="#a4b8cc" stroke="none">13,190</text>
<text x="73.8" y="10.5" font-size="9.32" stroke="none">Bol U-M-D: 377.16 - 341.97 - 306.79</text>
<text x="72" y="152" font-size="9.3" stroke="none">368.18</text>
<text x="76.2" y="486" font-size="18.9" textLength="204.4" lengthAdjust="spacingAndGlyphs" stroke-width="0.25">Bursagraph.co.il | SOXX</text>
</g>
</svg>
</body></html>
